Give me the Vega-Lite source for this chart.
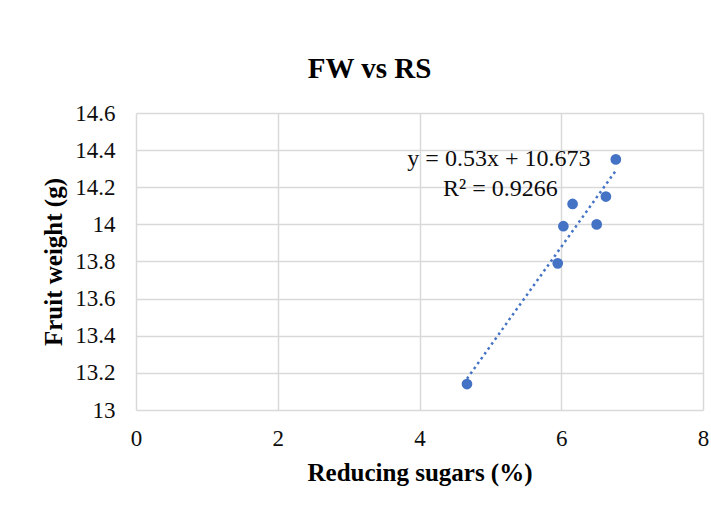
{
  "$schema": "https://vega.github.io/schema/vega-lite/v6.json",
  "width": 567,
  "height": 297,
  "autosize": {"type": "none"},
  "padding": {"left": 136, "top": 113, "right": 8, "bottom": 99},
  "background": "white",
  "config": {
    "view": {"stroke": null},
    "font": "Liberation Serif",
    "axis": {
      "domain": false,
      "ticks": false,
      "grid": true,
      "gridColor": "#d9d9d9",
      "gridWidth": 1.5,
      "labelFont": "Liberation Serif",
      "labelFontSize": 23,
      "labelColor": "#0d0d0d",
      "labelOverlap": false,
      "labelFlush": false,
      "titleFont": "Liberation Serif",
      "titleFontSize": 25,
      "titleFontWeight": "bold",
      "titleColor": "#000000"
    }
  },
  "title": {
    "text": "FW vs RS",
    "font": "Liberation Serif",
    "fontSize": 29,
    "fontWeight": "bold",
    "color": "#000000",
    "anchor": "middle",
    "dx": -50,
    "offset": 18
  },
  "datasets": {
    "points": [
      {"rs": 4.67, "fw": 13.14},
      {"rs": 5.95, "fw": 13.79},
      {"rs": 6.03, "fw": 13.99},
      {"rs": 6.16, "fw": 14.11},
      {"rs": 6.50, "fw": 14.00},
      {"rs": 6.63, "fw": 14.15},
      {"rs": 6.77, "fw": 14.35}
    ],
    "labels": [
      {"rs": 5.12, "fw": 14.35, "label": "y = 0.53x + 10.673"},
      {"rs": 5.14, "fw": 14.19, "label": "R² = 0.9266"}
    ]
  },
  "encoding": {
    "x": {"field": "rs", "type": "quantitative", "title": "Reducing sugars (%)",
          "scale": {"domain": [0, 8], "nice": false},
          "axis": {"values": [0, 2, 4, 6, 8], "tickCount": 20, "labelExpr": "format(datum.value, '~g')", "labelPadding": 17, "titlePadding": 10}},
    "y": {"field": "fw", "type": "quantitative", "title": "Fruit weight (g)",
          "scale": {"domain": [13, 14.6], "nice": false, "zero": false},
          "axis": {"values": [13, 13.2, 13.4, 13.6, 13.8, 14, 14.2, 14.4, 14.6], "tickCount": 20, "labelPadding": 21, "titlePadding": 8, "labelExpr": "format(datum.value, '.1~f')"}}
  },
  "layer": [
    {
      "data": {"name": "points"},
      "mark": {"type": "point", "filled": true, "size": 115, "color": "#4472C4", "opacity": 1}
    },
    {
      "data": {"name": "points"},
      "transform": [{"regression": "fw", "on": "rs"}],
      "mark": {"type": "line", "color": "#4472C4", "strokeWidth": 2.5, "strokeDash": [2.5, 3.5]}
    },
    {
      "data": {"name": "labels"},
      "mark": {"type": "text", "font": "Liberation Serif", "fontSize": 24, "color": "#0d0d0d", "align": "center", "baseline": "middle"},
      "encoding": {
        "text": {"field": "label"}
      }
    }
  ]
}
